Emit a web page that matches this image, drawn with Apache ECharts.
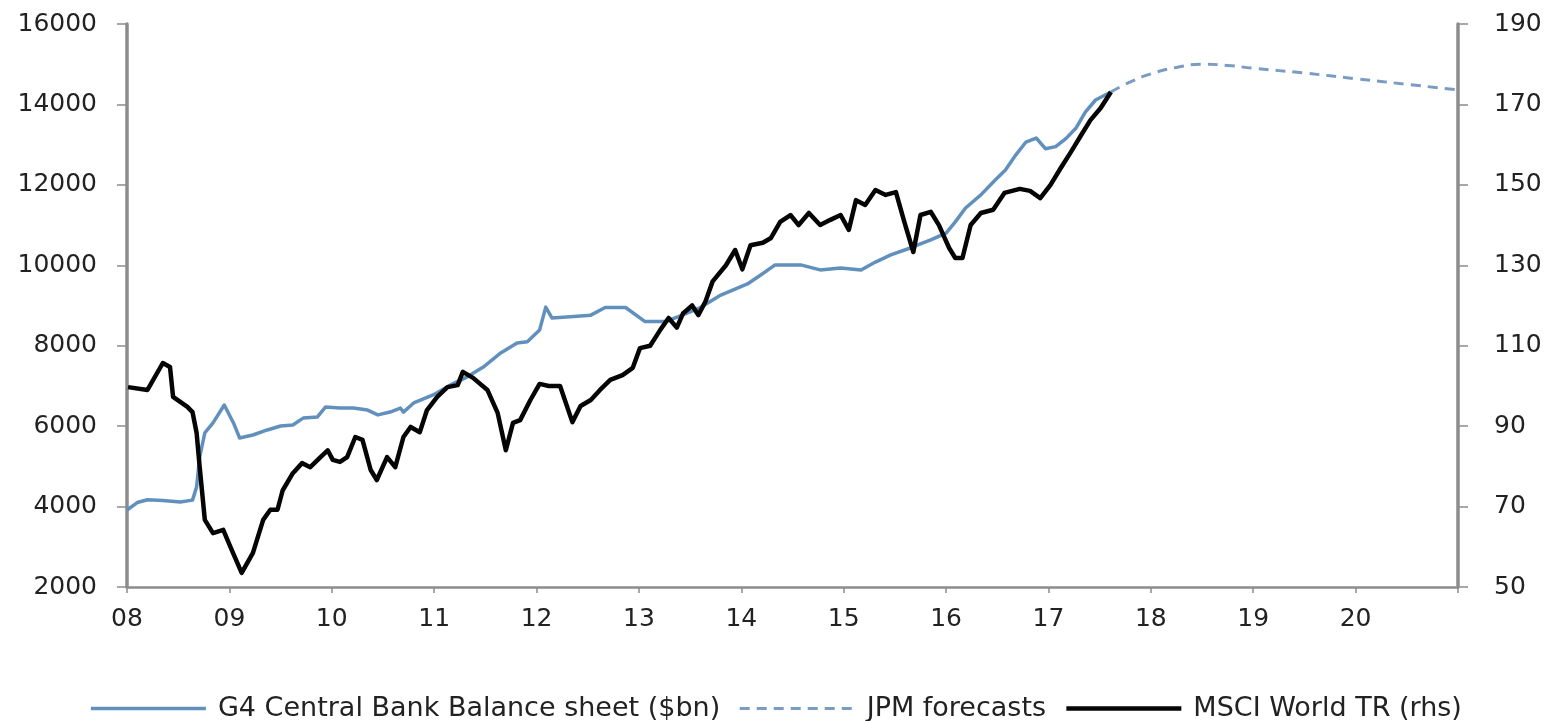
<!DOCTYPE html>
<html>
<head>
<meta charset="utf-8">
<title>G4 Central Bank Balance sheet vs MSCI World TR</title>
<script src="https://cdn.jsdelivr.net/npm/echarts@6/dist/echarts.min.js"></script>
<style>
  html, body { margin: 0; padding: 0; background: #ffffff; }
  #chart { width: 1551px; height: 721px; }
</style>
</head>
<body>
<div id="chart"></div>
<script>
// G4 central bank balance sheet, $bn (left axis), dates as decimal years
const g4Dates = [
  2008.00, 2008.10, 2008.20, 2008.35, 2008.52, 2008.64, 2008.68, 2008.71, 2008.76, 2008.84,
  2008.95, 2009.04, 2009.10, 2009.23, 2009.37, 2009.50, 2009.62, 2009.72, 2009.86, 2009.94,
  2010.08, 2010.21, 2010.35, 2010.45, 2010.57, 2010.67, 2010.70, 2010.80, 2010.99, 2011.16,
  2011.32, 2011.48, 2011.65, 2011.81, 2011.91, 2012.03, 2012.09, 2012.15, 2012.33, 2012.53,
  2012.67, 2012.87, 2013.06, 2013.26, 2013.41, 2013.60, 2013.80, 2014.06, 2014.19, 2014.33,
  2014.58, 2014.77, 2014.97, 2015.17, 2015.31, 2015.46, 2015.65, 2015.85, 2016.00, 2016.09,
  2016.19, 2016.34, 2016.48, 2016.58, 2016.68, 2016.78, 2016.88, 2016.97, 2017.07, 2017.17,
  2017.27, 2017.36, 2017.46, 2017.61
];
const g4Values = [
  3915, 4100, 4170, 4150, 4115, 4160, 4490, 5233, 5830, 6080,
  6526, 6080, 5705, 5780, 5905, 6004, 6030, 6200, 6230, 6477,
  6452, 6452, 6400, 6280, 6350, 6450, 6350, 6576, 6775, 7025,
  7220, 7470, 7820, 8070, 8100, 8390, 8960, 8690, 8720, 8760,
  8950, 8950, 8600, 8600, 8750, 8950, 9260, 9535, 9760, 10010,
  10010, 9885, 9935, 9885, 10080, 10260, 10430, 10630, 10800, 11080,
  11425, 11750, 12120, 12370, 12740, 13065, 13165, 12900, 12950, 13150,
  13415, 13810, 14110, 14310
];

// JPM forecast path for the balance sheet, $bn (left axis)
const forecastDates = [2017.61, 2017.80, 2018.00, 2018.25, 2018.50, 2018.75, 2019.00, 2019.50, 2020.00, 2020.50, 2021.00];
const forecastValues = [14310, 14560, 14760, 14920, 15000, 14970, 14900, 14780, 14640, 14500, 14360];

// MSCI World total return index (right axis)
const msciDates = [
  2008.01, 2008.20, 2008.35, 2008.42, 2008.45, 2008.59, 2008.64, 2008.68, 2008.71, 2008.76,
  2008.84, 2008.94, 2009.01, 2009.12, 2009.23, 2009.33, 2009.40, 2009.47, 2009.52, 2009.62,
  2009.71, 2009.79, 2009.89, 2009.96, 2010.01, 2010.08, 2010.15, 2010.23, 2010.30, 2010.38,
  2010.44, 2010.54, 2010.62, 2010.70, 2010.77, 2010.86, 2010.93, 2011.03, 2011.13, 2011.23,
  2011.28, 2011.38, 2011.52, 2011.62, 2011.70, 2011.77, 2011.84, 2011.94, 2012.03, 2012.12,
  2012.23, 2012.35, 2012.43, 2012.53, 2012.62, 2012.72, 2012.84, 2012.94, 2013.01, 2013.11,
  2013.21, 2013.29, 2013.37, 2013.43, 2013.52, 2013.58, 2013.65, 2013.72, 2013.85, 2013.94,
  2014.01, 2014.09, 2014.21, 2014.29, 2014.38, 2014.48, 2014.56, 2014.66, 2014.77, 2014.87,
  2014.97, 2015.05, 2015.12, 2015.21, 2015.31, 2015.41, 2015.51, 2015.59, 2015.68, 2015.75,
  2015.85, 2015.93, 2016.03, 2016.09, 2016.16, 2016.24, 2016.34, 2016.46, 2016.57, 2016.72,
  2016.82, 2016.92, 2017.02, 2017.12, 2017.22, 2017.32, 2017.41, 2017.51, 2017.61
];
const msciValues = [
  99.7, 99, 105.7, 104.7, 97.3, 94.8, 93.5, 88.3, 79.8, 66.7,
  63.4, 64.2, 60, 53.5, 58.5, 66.7, 69.2, 69.2, 74, 78.3,
  80.8, 79.8, 82.3, 84, 81.6, 81.1, 82.3, 87.3, 86.6, 79.1,
  76.6, 82.3, 79.8, 87.3, 89.8, 88.5, 94, 97.3, 99.7, 100.2,
  103.5, 102, 99, 93.3, 84, 90.8, 91.5, 96.5, 100.5, 100,
  100, 91, 95, 96.5, 99, 101.5, 102.7, 104.5, 109.4, 110,
  114, 116.9, 114.5, 118, 120, 117.6, 121, 126, 130, 133.8,
  129, 135, 135.6, 136.8, 140.8, 142.5, 140, 143, 140, 141.3,
  142.5, 138.8, 146.2, 145, 148.7, 147.5, 148.2, 141, 133.3, 142.5,
  143.3, 140, 134.3, 131.8, 131.8, 140, 143, 143.8, 148, 149,
  148.5, 146.7, 150, 154.2, 158.2, 162.4, 166.1, 169.1, 173.1
];

// Year tick labels along the bottom axis
const yearLabels = ['08', '09', '10', '11', '12', '13', '14', '15', '16', '17', '18', '19', '20'];

const zip = (xs, ys) => xs.map((x, i) => [x, ys[i]]);

const FONT = 'DejaVu Sans';
const AXIS_GREY = '#8c8c8c';
const LABEL = { color: '#222', fontFamily: FONT, fontSize: 25 };
const plain = v => String(v);

const chart = echarts.init(document.getElementById('chart'));
chart.setOption({
  backgroundColor: '#ffffff',
  animation: false,
  grid: { left: 127, right: 93, top: 24, bottom: 134, containLabel: false },
  legend: {
    top: 690,
    left: 'center',
    itemWidth: 115,
    itemHeight: 4,
    itemGap: 18,
    // legend keys are plain line samples, without the point marker
    itemStyle: { opacity: 0 },
    lineStyle: { width: 'inherit' },
    textStyle: { color: '#222', fontFamily: FONT, fontSize: 27, padding: [0, 0, 0, 7] },
    data: ['G4 Central Bank Balance sheet ($bn)', 'JPM forecasts', 'MSCI World TR (rhs)']
  },
  xAxis: {
    type: 'value',
    min: 2008,
    max: 2021,
    interval: 1,
    splitLine: { show: false },
    axisLine: { lineStyle: { color: AXIS_GREY, width: 2.5 } },
    axisTick: { show: true, length: 6, lineStyle: { color: AXIS_GREY, width: 1.5 } },
    axisLabel: Object.assign({}, LABEL, {
      margin: 20,
      formatter: v => yearLabels[Math.round(v) - 2008] || ''
    })
  },
  yAxis: [
    {
      type: 'value',
      position: 'left',
      min: 2000,
      max: 16000,
      interval: 2000,
      splitLine: { show: false },
      axisLine: { show: true, lineStyle: { color: AXIS_GREY, width: 3.5 } },
      axisTick: { show: true, length: 10, lineStyle: { color: AXIS_GREY, width: 1.5 } },
      axisLabel: Object.assign({}, LABEL, { margin: 30, formatter: plain })
    },
    {
      type: 'value',
      position: 'right',
      min: 50,
      max: 190,
      interval: 20,
      splitLine: { show: false },
      axisLine: { show: true, lineStyle: { color: AXIS_GREY, width: 3.5 } },
      axisTick: { show: true, length: 10, lineStyle: { color: AXIS_GREY, width: 1.5 } },
      axisLabel: Object.assign({}, LABEL, { margin: 36, formatter: plain })
    }
  ],
  series: [
    {
      name: 'G4 Central Bank Balance sheet ($bn)',
      type: 'line',
      yAxisIndex: 0,
      symbol: 'none',
      data: zip(g4Dates, g4Values),
      itemStyle: { color: '#6290bd' },
      lineStyle: { color: '#6290bd', width: 3.5, join: 'round' },
      z: 2
    },
    {
      name: 'JPM forecasts',
      type: 'line',
      yAxisIndex: 0,
      symbol: 'none',
      smooth: true,
      data: zip(forecastDates, forecastValues),
      itemStyle: { color: '#7a9cc2' },
      lineStyle: { color: '#7a9cc2', width: 3, type: [10, 7] },
      z: 2
    },
    {
      name: 'MSCI World TR (rhs)',
      type: 'line',
      yAxisIndex: 1,
      symbol: 'none',
      data: zip(msciDates, msciValues),
      itemStyle: { color: '#050505' },
      lineStyle: { color: '#050505', width: 4.5, join: 'round' },
      z: 3
    }
  ]
});
</script>
</body>
</html>
